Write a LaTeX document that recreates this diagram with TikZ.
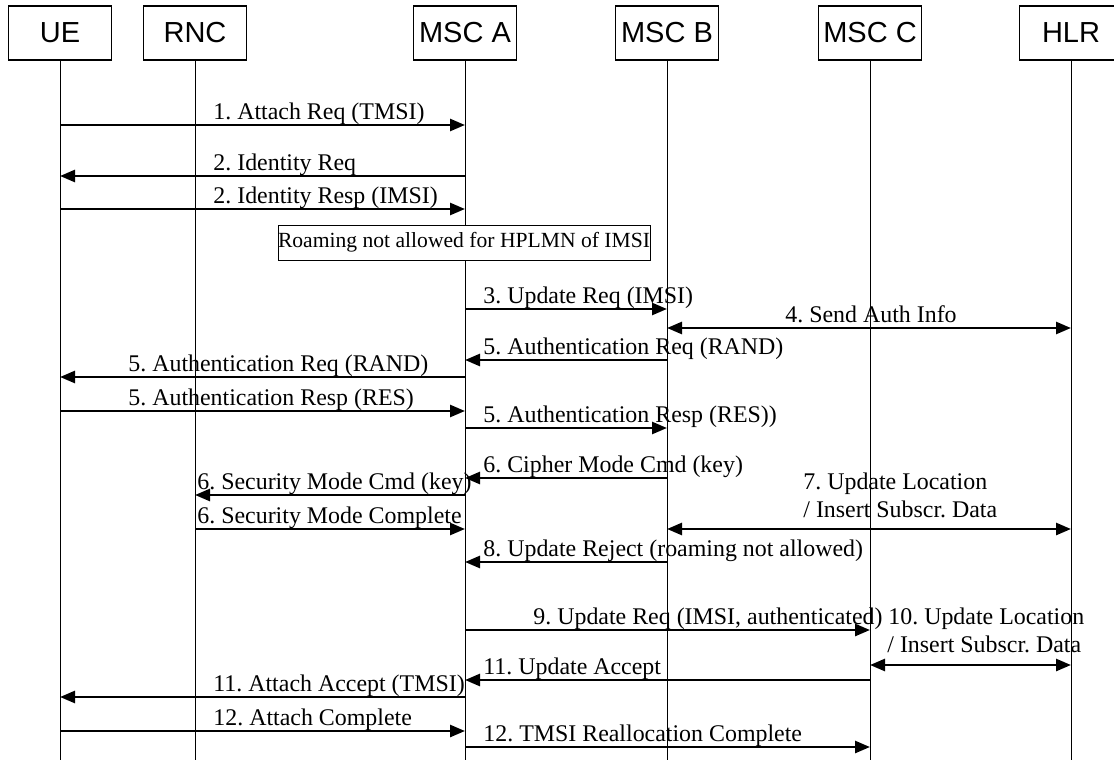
\documentclass[tikz,border=0pt]{standalone}
\usepackage{fontspec}
\setmainfont{Liberation Serif}
\setsansfont{Liberation Sans}
\usetikzlibrary{arrows.meta}
\frenchspacing

\begin{document}
\begin{tikzpicture}[x=0.5pt, y=-0.5pt]
  % Define styles
  \tikzstyle{entity} = [rectangle, draw, line width=0.7pt, minimum width=51.5pt, minimum height=27pt, inner sep=0pt, font=\sffamily\fontsize{14.5}{16}\selectfont]
  \tikzstyle{life} = [line width=0.5pt]
  \tikzstyle{msg} = [line width=1.3pt, -{Triangle[length=7.5pt,width=6pt]}]
  \tikzstyle{both} = [line width=1.3pt, {Triangle[length=7.5pt,width=6pt]}-{Triangle[length=7.5pt,width=6pt]}]
  \tikzstyle{lbl} = [anchor=base west, inner sep=0pt, font=\fontsize{11.95}{14}\selectfont]
  \tikzstyle{note} = [rectangle, draw, fill=white, line width=0.5pt, minimum width=186pt, minimum height=17.5pt, inner sep=0pt, font=\fontsize{10.8}{12}\selectfont]

  \useasboundingbox (0,0) rectangle (1114,760);

  % Entities
  \node[entity] (ue) at (60,33) {UE};
  \node[entity] (rnc) at (195,33) {RNC};
  \node[entity] (msca) at (465,33) {MSC A};
  \node[entity] (mscb) at (667,33) {MSC B};
  \node[entity] (mscc) at (870,33) {MSC C};
  \node[entity] (hlr) at (1071,33) {HLR};

  % Lifelines
  \draw[life] (ue.south) -- (ue |- 0,760);
  \draw[life] (rnc.south) -- (rnc |- 0,760);
  \draw[life] (msca.south) -- (msca |- 0,760);
  \draw[life] (mscb.south) -- (mscb |- 0,760);
  \draw[life] (mscc.south) -- (mscc |- 0,760);
  \draw[life] (hlr.south) -- (hlr |- 0,760);

  % Attach and identity
  \draw[msg] (ue |- 0,125) -- (msca |- 0,125);
  \node[lbl] (m1) at (213,119) {1. Attach Req (TMSI)};
  \draw[msg] (msca |- 0,176) -- (ue |- 0,176);
  \node[lbl] (m2a) at (213,170) {2. Identity Req};
  \draw[msg] (ue |- 0,209) -- (msca |- 0,209);
  \node[lbl] (m2b) at (213,203) {2. Identity Resp (IMSI)};

  \node[note] (roam) at (464,242.5) {Roaming not allowed for HPLMN of IMSI};

  % Update and authentication
  \draw[msg] (msca |- 0,309) -- (mscb |- 0,309);
  \node[lbl] (m3) at (483,303) {3. Update Req (IMSI)};
  \draw[both] (mscb |- 0,328) -- (hlr |- 0,328);
  \node[lbl] (m4) at (785,322) {4. Send Auth Info};
  \draw[msg] (mscb |- 0,360) -- (msca |- 0,360);
  \node[lbl] (m5a) at (483,354) {5. Authentication Req (RAND)};
  \draw[msg] (msca |- 0,377) -- (ue |- 0,377);
  \node[lbl] (m5b) at (128,371) {5. Authentication Req (RAND)};
  \draw[msg] (ue |- 0,411) -- (msca |- 0,411);
  \node[lbl] (m5c) at (128,405) {5. Authentication Resp (RES)};
  \draw[msg] (msca |- 0,428) -- (mscb |- 0,428);
  \node[lbl] (m5d) at (483,422) {5. Authentication Resp (RES))};

  % Ciphering
  \draw[msg] (mscb |- 0,478) -- (msca |- 0,478);
  \node[lbl] (m6a) at (483,472) {6. Cipher Mode Cmd (key)};
  \draw[msg] (msca |- 0,495) -- (rnc |- 0,495);
  \node[lbl] (m6b) at (197,489) {6. Security Mode Cmd (key)};
  \draw[msg] (rnc |- 0,529) -- (msca |- 0,529);
  \node[lbl] (m6c) at (197,523) {6. Security Mode Complete};
  \draw[both] (mscb |- 0,529) -- (hlr |- 0,529);
  \node[lbl] (m7a) at (803,489) {7. Update Location};
  \node[lbl] (m7b) at (803,517) {/ Insert Subscr. Data};
  \draw[msg] (mscb |- 0,562) -- (msca |- 0,562);
  \node[lbl] (m8) at (483,556) {8. Update Reject (roaming not allowed)};

  % Update via MSC C
  \draw[msg] (msca |- 0,630) -- (mscc |- 0,630);
  \node[lbl] (m9) at (533,624) {9. Update Req (IMSI, authenticated)};
  \draw[both] (mscc |- 0,665) -- (hlr |- 0,665);
  \node[lbl] (m10a) at (888,624) {10. Update Location};
  \node[lbl] (m10b) at (887,652) {/ Insert Subscr. Data};
  \draw[msg] (mscc |- 0,680) -- (msca |- 0,680);
  \node[lbl] (m11a) at (483,674) {11. Update Accept};
  \draw[msg] (msca |- 0,697) -- (ue |- 0,697);
  \node[lbl] (m11b) at (213,691) {11. Attach Accept (TMSI)};
  \draw[msg] (ue |- 0,731) -- (msca |- 0,731);
  \node[lbl] (m12a) at (213,725) {12. Attach Complete};
  \draw[msg] (msca |- 0,747) -- (mscc |- 0,747);
  \node[lbl] (m12b) at (483,741) {12. TMSI Reallocation Complete};
\end{tikzpicture}
\end{document}
